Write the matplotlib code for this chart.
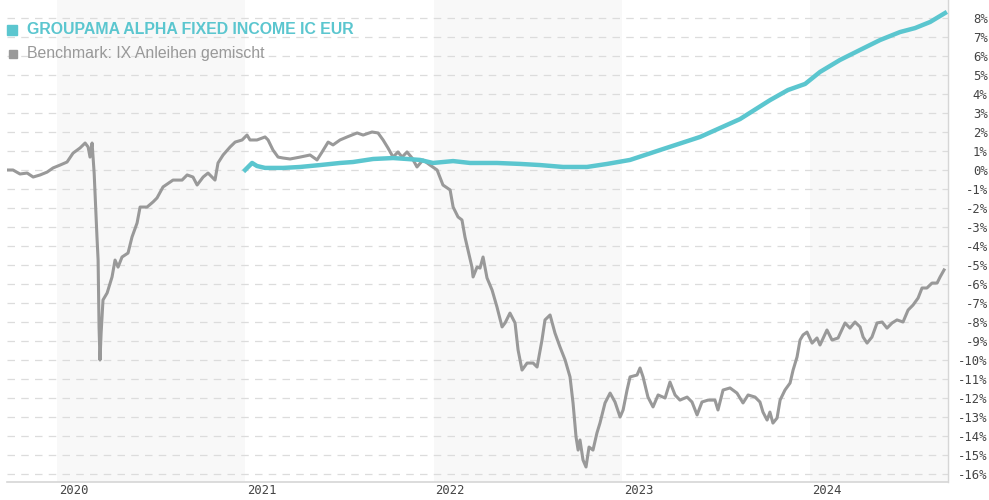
import matplotlib
matplotlib.use("Agg")
import matplotlib.pyplot as plt
import matplotlib.transforms as mtransforms
import numpy as np

# time axis in decimal years, values in percent
bench_t = [2019.729, 2019.766, 2019.803, 2019.841, 2019.873, 2019.910, 2019.947, 2019.979,
           2020.016, 2020.053, 2020.085, 2020.122, 2020.149, 2020.165, 2020.175, 2020.186,
           2020.197, 2020.212, 2020.218, 2020.223, 2020.228, 2020.234, 2020.244, 2020.266,
           2020.292, 2020.308, 2020.324, 2020.345, 2020.377, 2020.398, 2020.425, 2020.441,
           2020.478, 2020.510, 2020.531, 2020.563, 2020.616, 2020.664, 2020.691, 2020.722,
           2020.744, 2020.776, 2020.802, 2020.839, 2020.855, 2020.882, 2020.919, 2020.946,
           2020.983, 2021.009, 2021.025, 2021.062, 2021.105, 2021.121, 2021.147, 2021.174,
           2021.201, 2021.238, 2021.291, 2021.344, 2021.381, 2021.408, 2021.440, 2021.466,
           2021.503, 2021.541, 2021.594, 2021.626, 2021.673, 2021.705, 2021.732, 2021.758,
           2021.785, 2021.811, 2021.833, 2021.859, 2021.886, 2021.912, 2021.944, 2021.981,
           2022.019, 2022.050, 2022.088, 2022.104, 2022.130, 2022.151, 2022.167, 2022.183,
           2022.204, 2022.210, 2022.231, 2022.247, 2022.263, 2022.284, 2022.311, 2022.337,
           2022.364, 2022.380, 2022.406, 2022.433, 2022.449, 2022.470, 2022.497, 2022.529,
           2022.550, 2022.576, 2022.592, 2022.619, 2022.645, 2022.672, 2022.699, 2022.725,
           2022.741, 2022.757, 2022.768, 2022.778, 2022.794, 2022.810, 2022.826, 2022.847,
           2022.868, 2022.884, 2022.911, 2022.938, 2022.964, 2022.991, 2023.007, 2023.028,
           2023.044, 2023.081, 2023.097, 2023.113, 2023.139, 2023.166, 2023.193, 2023.230,
           2023.256, 2023.283, 2023.309, 2023.347, 2023.373, 2023.400, 2023.426, 2023.458,
           2023.495, 2023.511, 2023.538, 2023.575, 2023.612, 2023.644, 2023.671, 2023.708,
           2023.734, 2023.750, 2023.772, 2023.787, 2023.803, 2023.825, 2023.841, 2023.867,
           2023.894, 2023.910, 2023.931, 2023.947, 2023.963, 2023.984, 2024.011, 2024.037,
           2024.053, 2024.090, 2024.117, 2024.149, 2024.186, 2024.212, 2024.239, 2024.266,
           2024.282, 2024.303, 2024.329, 2024.356, 2024.383, 2024.409, 2024.436, 2024.462,
           2024.494, 2024.521, 2024.547, 2024.574, 2024.595, 2024.621, 2024.648, 2024.675,
           2024.691, 2024.712]
bench_v = [0.00, 0.00, -0.21, -0.16, -0.37, -0.26, -0.11, 0.11,
           0.26, 0.42, 0.89, 1.16, 1.42, 1.21, 0.68, 1.42,
           -0.16, -3.53, -4.74, -8.26, -10.00, -8.58, -6.84, -6.47,
           -5.63, -4.74, -5.11, -4.58, -4.37, -3.53, -2.79, -1.95,
           -1.95, -1.68, -1.47, -0.89, -0.53, -0.53, -0.26, -0.37,
           -0.79, -0.37, -0.16, -0.53, 0.37, 0.79, 1.21, 1.47,
           1.58, 1.84, 1.58, 1.58, 1.74, 1.58, 1.05, 0.68,
           0.63, 0.58, 0.68, 0.79, 0.53, 0.95, 1.47, 1.32,
           1.58, 1.74, 1.95, 1.84, 2.00, 1.95, 1.58, 1.16,
           0.68, 0.95, 0.68, 0.95, 0.63, 0.16, 0.53, 0.26,
           0.00, -0.79, -1.05, -1.95, -2.47, -2.63, -3.53, -4.21,
           -5.11, -5.63, -5.11, -5.16, -4.58, -5.68, -6.32, -7.21,
           -8.26, -8.05, -7.53, -8.05, -9.47, -10.53, -10.16, -10.16,
           -10.37, -8.95, -7.89, -7.63, -8.58, -9.32, -10.00, -10.89,
           -12.26, -14.05, -14.74, -14.21, -15.26, -15.63, -14.58, -14.74,
           -13.84, -13.32, -12.26, -11.74, -12.21, -13.00, -12.63, -11.58,
           -10.89, -10.79, -10.42, -10.89, -11.95, -12.47, -11.84, -12.00,
           -11.16, -11.84, -12.11, -11.95, -12.21, -12.89, -12.21, -12.11,
           -12.11, -12.63, -11.58, -11.47, -11.74, -12.26, -11.84, -11.95,
           -12.21, -12.74, -13.16, -12.74, -13.32, -13.05, -12.11, -11.58,
           -11.21, -10.53, -9.84, -8.95, -8.68, -8.53, -9.11, -8.84,
           -9.21, -8.42, -8.95, -8.84, -8.05, -8.32, -8.00, -8.26,
           -8.79, -9.11, -8.79, -8.05, -8.00, -8.32, -8.05, -7.89,
           -8.00, -7.37, -7.11, -6.74, -6.21, -6.21, -5.95, -5.95,
           -5.63, -5.26]

fund_t = [2020.999, 2021.036, 2021.062, 2021.105, 2021.201, 2021.291, 2021.397, 2021.503,
          2021.572, 2021.679, 2021.785, 2021.859, 2021.928, 2021.997, 2022.104, 2022.194,
          2022.337, 2022.460, 2022.566, 2022.688, 2022.815, 2022.922, 2023.044, 2023.203,
          2023.416, 2023.628, 2023.788, 2023.883, 2023.974, 2024.053, 2024.159, 2024.266,
          2024.372, 2024.478, 2024.558, 2024.638, 2024.717]
fund_v = [0.00, 0.37, 0.21, 0.11, 0.11, 0.16, 0.26, 0.37,
          0.42, 0.58, 0.63, 0.58, 0.53, 0.37, 0.47, 0.37,
          0.37, 0.32, 0.26, 0.16, 0.16, 0.32, 0.53, 1.05,
          1.74, 2.68, 3.68, 4.21, 4.53, 5.16, 5.79, 6.32,
          6.84, 7.26, 7.47, 7.79, 8.26]

years = [2020, 2021, 2022, 2023, 2024]
y_ticks = list(range(-16, 9))
fund_name = "GROUPAMA ALPHA FIXED INCOME IC EUR"
bench_name = "Benchmark: IX Anleihen gemischt"

teal = "#5bc6cf"
grey = "#999999"

fig = plt.figure(figsize=(9.89, 5.0), dpi=100)
ax = fig.add_axes([7 / 989, 18 / 500, 941 / 989, 482 / 500])

x_lo, x_hi = 2019.734, 2024.733
ax.set_xlim(x_lo, x_hi)
ax.set_ylim(-16.42, 8.947)

# shaded years
for i, yr in enumerate(years):
    if i % 2 == 0:
        ax.axvspan(yr, min(yr + 1, x_hi), color="#f8f8f8", lw=0, zorder=0)

for v in y_ticks:
    ax.axhline(v, color="#dcdcdc", lw=0.9, ls=(0, (6, 5)), zorder=1)

ax.plot(bench_t, bench_v, color=grey, lw=2.2, zorder=3, solid_joinstyle="round")
ax.plot(fund_t, fund_v, color=teal, lw=3.2, zorder=4, solid_joinstyle="round")

for s in ["left", "top"]:
    ax.spines[s].set_visible(False)
ax.spines["bottom"].set_color("#d6d6d6")
ax.spines["right"].set_color("#d6d6d6")
ax.spines["bottom"].set_linewidth(1.2)
ax.spines["right"].set_linewidth(1.0)

ax.set_xticks([])
ax.yaxis.tick_right()
ax.set_yticks(y_ticks)
ax.set_yticklabels([f"{v}%" for v in y_ticks], fontsize=8.8, color="#444444",
                   family="DejaVu Sans Mono")
ax.tick_params(axis="y", length=0, pad=28.5)
for lab in ax.get_yticklabels():
    lab.set_horizontalalignment("right")

trans = mtransforms.blended_transform_factory(ax.transData, ax.transAxes)
for yr in years:
    ax.text(yr + 0.01, -0.017, str(yr), transform=trans, ha="left", va="center",
            fontsize=8.8, color="#444444", family="DejaVu Sans Mono")

# legend drawn by hand
ax.plot([0.005], [0.938], marker="s", ms=6.5, color=teal, transform=ax.transAxes,
        clip_on=False, zorder=5)
ax.plot([0.006], [0.889], marker="s", ms=6, color=grey, transform=ax.transAxes,
        clip_on=False, zorder=5)
ax.text(0.0215, 0.938, fund_name, transform=ax.transAxes, ha="left", va="center",
        fontsize=11.4, fontweight="bold", color=teal, family="Liberation Sans", zorder=5)
ax.text(0.0215, 0.889, bench_name, transform=ax.transAxes, ha="left", va="center",
        fontsize=11.4, color=grey, family="Liberation Sans", zorder=5)

fig.savefig("out.png", dpi=100)
